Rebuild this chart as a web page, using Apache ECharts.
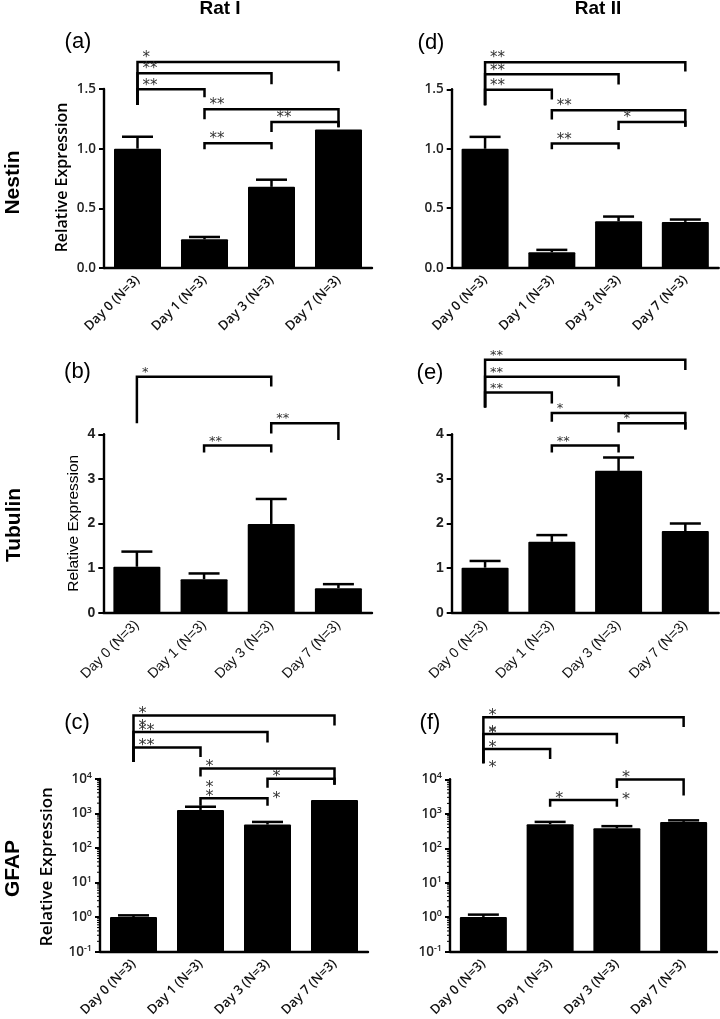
<!DOCTYPE html>
<html><head><meta charset="utf-8">
<script src="https://cdn.jsdelivr.net/npm/echarts@6.0.0/dist/echarts.min.js"></script>
<style>html,body{margin:0;padding:0;background:#fff}#c{width:720px;height:1019px}</style>
</head><body><div id="c"></div>
<script>
const categories = ['Day 0 (N=3)', 'Day 1 (N=3)', 'Day 3 (N=3)', 'Day 7 (N=3)'];

// Nestin
const nestinRatI = [1.00, 0.24, 0.68, 1.16];
const nestinRatIErr = [1.10, 0.26, 0.74, 1.16];
const nestinRatII = [1.00, 0.13, 0.39, 0.385];
const nestinRatIIErr = [1.10, 0.15, 0.43, 0.405];
// Tubulin
const tubulinRatI = [1.03, 0.75, 1.99, 0.55];
const tubulinRatIErr = [1.37, 0.88, 2.55, 0.64];
const tubulinRatII = [1.01, 1.59, 3.18, 1.83];
const tubulinRatIIErr = [1.16, 1.74, 3.48, 2.00];
// GFAP
const gfapRatI = [1.01, 1270, 480, 2480];
const gfapRatIErr = [1.13, 1575, 572, 2480];
const gfapRatII = [1.02, 498, 378, 582];
const gfapRatIIErr = [1.19, 582, 438, 645];

// significance brackets: [fromIndex, toIndex, level, leftLegEnd, rightLegEnd, label]
const nestinRatIBrackets = [
  [0, 3, 1.727, 1.366, 1.648, '*'],
  [0, 2, 1.632, 1.366, 1.54, '**'],
  [0, 1, 1.497, 1.366, 1.43, '**'],
  [1, 3, 1.33, 1.246, 1.18, '**'],
  [2, 3, 1.224, 1.14, 1.18, '**'],
  [1, 2, 1.045, 0.995, 0.995, '**']
];
const nestinRatIIBrackets = [
  [0, 3, 1.727, 1.366, 1.65, '**'],
  [0, 2, 1.626, 1.366, 1.54, '**'],
  [0, 1, 1.497, 1.366, 1.414, '**'],
  [1, 3, 1.324, 1.246, 1.185, '**'],
  [2, 3, 1.226, 1.157, 1.185, '*'],
  [1, 2, 1.045, 0.995, 0.995, '**']
];
const tubulinRatIBrackets = [
  [0, 2, 5.29, 4.25, 5.07, '*'],
  [2, 3, 4.25, 4.02, 3.87, '**'],
  [1, 2, 3.75, 3.59, 3.59, '**']
];
const tubulinRatIIBrackets = [
  [0, 3, 5.67, 4.6, 5.44, '**'],
  [0, 2, 5.29, 4.6, 5.07, '**'],
  [0, 1, 4.94, 4.6, 4.69, '**'],
  [1, 3, 4.48, 4.28, 4.11, '*'],
  [2, 3, 4.25, 4.04, 4.11, '*'],
  [1, 2, 3.75, 3.59, 3.59, '**']
];
const gfapRatIBrackets = [
  [0, 3, 687000, 31100, 351600, '*'],
  [0, 2, 228000, 31100, 113800, '**'],
  [0, 1, 82200, 31100, 43100, '**'],
  [1, 3, 20300, 11750, 6870, '*'],
  [2, 3, 10140, 5550, 6870, '*'],
  [1, 2, 2770, 1680, 1680, '*']
];
const gfapRatIIBrackets = [
  [0, 3, 628000, 29000, 330000, '*'],
  [0, 2, 206000, 29000, 108000, '*'],
  [0, 1, 76200, 29000, 38500, '*'],
  [2, 3, 9930, 5560, 3380, '*'],
  [1, 2, 2500, 1590, 1590, '*']
];
// extra loose asterisks: [categoryIndex, value, label]
const gfapRatIExtraStars = [[0, 417000, '*'], [1, 7180, '*'], [2, 3365, '*']];
const gfapRatIIExtraStars = [[0, 267000, '*'], [0, 27900, '*'], [2, 3240, '*']];

// tick labels
const nestinTicks = ['0.0', '0.5', '1.0', '1.5'];
const tubulinTicks = ['0', '1', '2', '3', '4'];
const gfapTickExp = ['-1', '0', '1', '2', '3', '4'];

const OS = 'Open Sans';
const AR = 'Liberation Sans, Arial';
const looks = {
  os: { catFont: OS, catSize: 13, catWeight: 600, tickFont: OS, tickSize: 13.5, tickWeight: 600, starSize: 15, starGap: 7 },
  ar: { catFont: AR, catSize: 14, catWeight: 'normal', tickFont: AR, tickSize: 14, tickWeight: 'bold', starSize: 13, starGap: 7 },
  lg: { catFont: OS, catSize: 13, catWeight: 600, tickFont: OS, tickSize: 13, tickWeight: 600, starSize: 16, starGap: 5 }
};

const panels = [
  { left: 104, top: 89, width: 268, height: 179, kind: 'lin', max: 1.5, interval: 0.5, ticks: nestinTicks, vals: nestinRatI, err: nestinRatIErr, br: nestinRatIBrackets, extra: [], look: looks.os },
  { left: 451.7, top: 89.3, width: 267, height: 178.4, kind: 'lin', max: 1.5, interval: 0.5, ticks: nestinTicks, vals: nestinRatII, err: nestinRatIIErr, br: nestinRatIIBrackets, extra: [], look: looks.os },
  { left: 103.3, top: 434.3, width: 268.7, height: 178.4, kind: 'lin', max: 4, interval: 1, ticks: tubulinTicks, vals: tubulinRatI, err: tubulinRatIErr, br: tubulinRatIBrackets, extra: [], look: looks.ar },
  { left: 451.7, top: 434.3, width: 267, height: 178.4, kind: 'lin', max: 4, interval: 1, ticks: tubulinTicks, vals: tubulinRatII, err: tubulinRatIIErr, br: tubulinRatIIBrackets, extra: [], look: looks.ar },
  { left: 100, top: 779, width: 268, height: 177.7, kind: 'log', ticks: gfapTickExp, vals: gfapRatI, err: gfapRatIErr, br: gfapRatIBrackets, extra: gfapRatIExtraStars, look: looks.lg },
  { left: 450, top: 779.3, width: 267, height: 178.4, kind: 'log', ticks: gfapTickExp, vals: gfapRatII, err: gfapRatIIErr, br: gfapRatIIBrackets, extra: gfapRatIIExtraStars, look: looks.lg }
];

// minor tick positions for log axes (2..9 x 10^k)
const logMinor = [];
for (let k = -1; k < 4; k++) for (let m = 2; m <= 9; m++) logMinor.push(m * Math.pow(10, k));

const grid = [], xAxis = [], yAxis = [], series = [];
panels.forEach((p, i) => {
  const L = p.look;
  grid.push({ left: p.left, top: p.top, width: p.width, height: p.height, containLabel: false });
  xAxis.push({
    type: 'category', gridIndex: i, data: categories,
    axisLine: { lineStyle: { color: '#000', width: 2.4 } },
    axisTick: { alignWithLabel: true, length: 5, lineStyle: { color: '#000', width: 2 } },
    axisLabel: { rotate: 45, interval: 0, margin: 10, fontFamily: L.catFont, fontSize: L.catSize, fontWeight: L.catWeight, color: '#111' },
    splitLine: { show: false }
  });
  const ya = {
    gridIndex: i,
    axisLine: { show: true, lineStyle: { color: '#000', width: 2.4 } },
    axisTick: { show: true, length: 5, lineStyle: { color: '#000', width: 2 } },
    splitLine: { show: false }
  };
  if (p.kind === 'lin') {
    Object.assign(ya, {
      type: 'value', min: 0, max: p.max, interval: p.interval,
      axisLabel: { margin: 8, fontFamily: L.tickFont, fontSize: L.tickSize, fontWeight: L.tickWeight, color: '#222',
        formatter: (v, idx) => p.ticks[idx] }
    });
  } else {
    Object.assign(ya, {
      type: 'log', logBase: 10, min: 0.1, max: 10000, splitNumber: 5,
      axisLabel: { margin: 8,
        formatter: (v) => { const e = Math.round(Math.log10(v)); return '{b|10}{s|' + p.ticks[e + 1] + '}'; },
        rich: {
          b: { fontFamily: OS, fontSize: 13.5, fontWeight: 600, color: '#222', lineHeight: 16 },
          s: { fontFamily: OS, fontSize: 9, fontWeight: 600, color: '#222', lineHeight: 9, verticalAlign: 'top' }
        } }
    });
  }
  yAxis.push(ya);

  // bars, drawn from the bottom of the plot up to the value
  series.push({
    type: 'custom', xAxisIndex: i, yAxisIndex: i, z: 2, silent: true, clip: false,
    data: p.vals.map((v, k) => [k, v]),
    encode: { x: 0, y: 1 },
    renderItem: (params, api) => {
      const t = api.coord([api.value(0), api.value(1)]);
      const bottom = params.coordSys.y + params.coordSys.height;
      return { type: 'rect', shape: { x: t[0] - 23.5, y: t[1], width: 47, height: bottom - t[1], r: 1 }, style: { fill: '#000' } };
    }
  });
  // error bars (upper only)
  series.push({
    type: 'custom', xAxisIndex: i, yAxisIndex: i, z: 3, silent: true, clip: false,
    data: p.vals.map((v, k) => [k, v, p.err[k]]),
    encode: { x: 0, y: [1, 2] },
    renderItem: (params, api) => {
      if (api.value(2) <= api.value(1)) return null;
      const a = api.coord([api.value(0), api.value(1)]);
      const b = api.coord([api.value(0), api.value(2)]);
      return { type: 'group', children: [
        { type: 'line', shape: { x1: a[0], y1: a[1], x2: b[0], y2: b[1] }, style: { stroke: '#000', lineWidth: 2.5 } },
        { type: 'line', shape: { x1: b[0] - 15.5, y1: b[1], x2: b[0] + 15.5, y2: b[1] }, style: { stroke: '#000', lineWidth: 2.5 } }
      ] };
    }
  });
  const ann = p.br.map(b => ({ br: b })).concat(p.extra.map(s => ({ st: s })));
  series.push({
    type: 'custom', xAxisIndex: i, yAxisIndex: i, z: 4, silent: true, clip: false,
    data: ann.map(a => a.br ? [a.br[0], a.br[2]] : [a.st[0], a.st[1]]),
    encode: { x: 0, y: 1 },
    renderItem: (params, api) => {
      const a = ann[params.dataIndex];
      const fs = L.starSize;
      const starStyle = (x, yc, t) => ({ type: 'text', style: { x: x, y: yc + 0.22 * fs, text: t, fill: '#333',
        font: 'normal ' + fs + 'px "DejaVu Sans"', textAlign: 'left', textVerticalAlign: 'middle' } });
      if (a.br) {
        const b = a.br;
        const l0 = api.coord([b[0], b[3]]);
        const lt = api.coord([b[0], b[2]]);
        const rt = api.coord([b[1], b[2]]);
        const r0 = api.coord([b[1], b[4]]);
        return { type: 'group', children: [
          { type: 'polyline', shape: { points: [l0, lt, rt, r0] },
            style: { stroke: '#000', lineWidth: 2.5, fill: null, lineJoin: 'miter' } },
          starStyle(lt[0] + 5, lt[1] - L.starGap, b[5])
        ] };
      } else {
        const s = a.st;
        const c = api.coord([s[0], s[1]]);
        return starStyle(c[0] + 5, c[1], s[2]);
      }
    }
  });
  if (p.kind === 'log') {
    series.push({
      type: 'custom', xAxisIndex: i, yAxisIndex: i, z: 4, silent: true, clip: false,
      data: logMinor.map(v => [0, v]), encode: { x: 0, y: 1 },
      renderItem: (params, api) => {
        const y = api.coord([0, api.value(1)])[1];
        const x0 = params.coordSys.x;
        return { type: 'line', shape: { x1: x0 - 3, y1: y, x2: x0, y2: y }, style: { stroke: '#000', lineWidth: 1 } };
      }
    });
  }
});

function txt(x, y, text, font, rot) {
  return { type: 'text', x: x, y: y, rotation: rot || 0, silent: true,
    style: { text: text, font: font, fill: '#000', textAlign: 'center', textVerticalAlign: 'middle' } };
}
const graphic = [
  txt(220, 9, 'Rat I', 'bold 19px "Liberation Sans"'),
  txt(598, 9, 'Rat II', 'bold 19px "Liberation Sans"'),
  txt(78, 42, '(a)', 'normal 22px "Liberation Sans"'),
  txt(431, 42.5, '(d)', 'normal 22px "Liberation Sans"'),
  txt(77.5, 372, '(b)', 'normal 22px "Liberation Sans"'),
  txt(430, 373, '(e)', 'normal 22px "Liberation Sans"'),
  txt(77, 723, '(c)', 'normal 22px "Liberation Sans"'),
  txt(430, 722.5, '(f)', 'normal 22px "Liberation Sans"'),
  txt(13.5, 182.5, 'Nestin', 'bold 21px "Liberation Sans"', Math.PI / 2),
  txt(14.5, 525, 'Tubulin', 'bold 21px "Liberation Sans"', Math.PI / 2),
  txt(13.5, 868.5, 'GFAP', 'bold 21px "Liberation Sans"', Math.PI / 2),
  txt(62.5, 177.5, 'Relative Expression', '600 16px "Open Sans"', Math.PI / 2),
  txt(74, 523.3, 'Relative Expression', 'normal 15.5px "Liberation Sans"', Math.PI / 2),
  txt(46.7, 866.7, 'Relative Expression', '600 17px "Open Sans"', Math.PI / 2)
];

const chart = echarts.init(document.getElementById('c'), null, { renderer: 'canvas' });
chart.setOption({ animation: false, backgroundColor: '#fff', grid, xAxis, yAxis, series, graphic });
</script>
</body></html>
